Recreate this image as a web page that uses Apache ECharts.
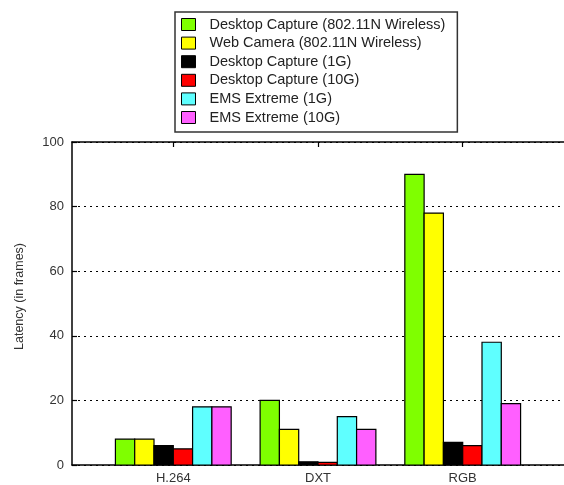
<!DOCTYPE html>
<html>
<head>
<meta charset="utf-8">
<script src="https://cdn.jsdelivr.net/npm/echarts@6/dist/echarts.min.js"></script>
<style>
  html, body { margin: 0; padding: 0; background: #fff; }
  #chart { width: 564px; height: 485px; }
</style>
</head>
<body>
<div id="chart"></div>
<script>
// Encoding formats along the x axis
const categories = ['H.264', 'DXT', 'RGB'];

// Latency per setup, in frames (one value per format)
const seriesNames = [
  'Desktop Capture (802.11N Wireless)',
  'Web Camera (802.11N Wireless)',
  'Desktop Capture (1G)',
  'Desktop Capture (10G)',
  'EMS Extreme (1G)',
  'EMS Extreme (10G)'
];
const desktopWireless = [8, 20, 90];
const webcamWireless  = [8, 11, 78];
const desktop1G       = [6, 1, 7];
const desktop10G      = [5, 0.8, 6];
const emsExtreme1G    = [18, 15, 38];
const emsExtreme10G   = [18, 11, 19];

const yTicks = [0, 20, 40, 60, 80, 100];

const seriesValues = [desktopWireless, webcamWireless, desktop1G, desktop10G, emsExtreme1G, emsExtreme10G];
const colors = ['#7fff00', '#ffff00', '#000000', '#ff0000', '#5fffff', '#ff5fff'];

const clusterFraction = 0.8;   // share of one category slot taken by a cluster of bars
const nSeries = seriesValues.length;

function makeRenderer(idx) {
  return function (params, api) {
    const x = api.value(0);
    const v = api.value(1);
    const base = api.coord([x, 0]);
    const top = api.coord([x, v]);
    const slot = api.size([1, 0])[0];
    const w = slot * clusterFraction / nSeries;
    const left = base[0] + (idx - nSeries / 2) * w;
    return {
      type: 'rect',
      shape: { x: left, y: top[1], width: w, height: base[1] - top[1] },
      style: { fill: colors[idx], stroke: '#000', lineWidth: 1.2 }
    };
  };
}

const series = seriesValues.map((vals, i) => ({
  name: seriesNames[i],
  type: 'custom',
  xAxisIndex: 0,
  yAxisIndex: 0,
  renderItem: makeRenderer(i),
  encode: { x: 0, y: 1 },
  itemStyle: { color: colors[i], borderColor: '#000', borderWidth: 1 },
  data: vals.map((v, k) => [k, v])
}));

const chart = echarts.init(document.getElementById('chart'), null, { renderer: 'canvas' });
const textFont = 'Liberation Sans, Arial, sans-serif';

chart.setOption({
  animation: false,
  backgroundColor: '#fff',
  grid: { left: 72, right: -8, top: 142, bottom: 19, containLabel: false },
  legend: {
    orient: 'vertical',
    left: 175,
    top: 12,
    padding: [5, 12, 7, 6],
    itemWidth: 14,
    itemHeight: 12,
    itemGap: 3.6,
    icon: 'rect',
    borderColor: '#333',
    borderWidth: 1.5,
    itemStyle: { borderColor: '#000', borderWidth: 1 },
    textStyle: { fontFamily: textFont, fontSize: 14.5, color: '#222', padding: [0, 0, 0, 9] },
    data: seriesNames
  },
  xAxis: [
    {
      type: 'value',
      position: 'bottom',
      min: -0.7,
      max: 2.7,
      axisLine: { show: true, onZero: false, lineStyle: { color: '#000', width: 1.5 } },
      axisTick: { show: false },
      splitLine: { show: false },
      axisLabel: {
        customValues: [0, 1, 2],
        formatter: v => categories[Math.round(v)],
        fontFamily: textFont, fontSize: 13, color: '#333', margin: 7
      }
    },
    {
      type: 'value',
      position: 'top',
      min: -0.7,
      max: 2.7,
      axisLine: { show: true, onZero: false, lineStyle: { color: '#000', width: 1.5 } },
      axisTick: { show: true, inside: true, length: 5, customValues: [0, 1, 2], lineStyle: { color: '#000', width: 1.2 } },
      splitLine: { show: false },
      axisLabel: { show: false }
    }
  ],
  yAxis: {
    type: 'value',
    min: yTicks[0],
    max: yTicks[yTicks.length - 1],
    interval: 20,
    name: 'Latency (in frames)',
    nameLocation: 'middle',
    nameGap: 46,
    nameTextStyle: { fontFamily: textFont, fontSize: 12.5, color: '#333', padding: [0, 0, 0, 14] },
    axisLine: { show: true, onZero: false, lineStyle: { color: '#000', width: 1.5 } },
    axisTick: { show: true, inside: true, length: 5, lineStyle: { color: '#000', width: 1.2 } },
    axisLabel: { fontFamily: textFont, fontSize: 13, color: '#333', margin: 8 },
    splitLine: { show: true, lineStyle: { color: '#000', width: 1, type: [2, 4] } }
  },
  series: series
});
</script>
</body>
</html>
